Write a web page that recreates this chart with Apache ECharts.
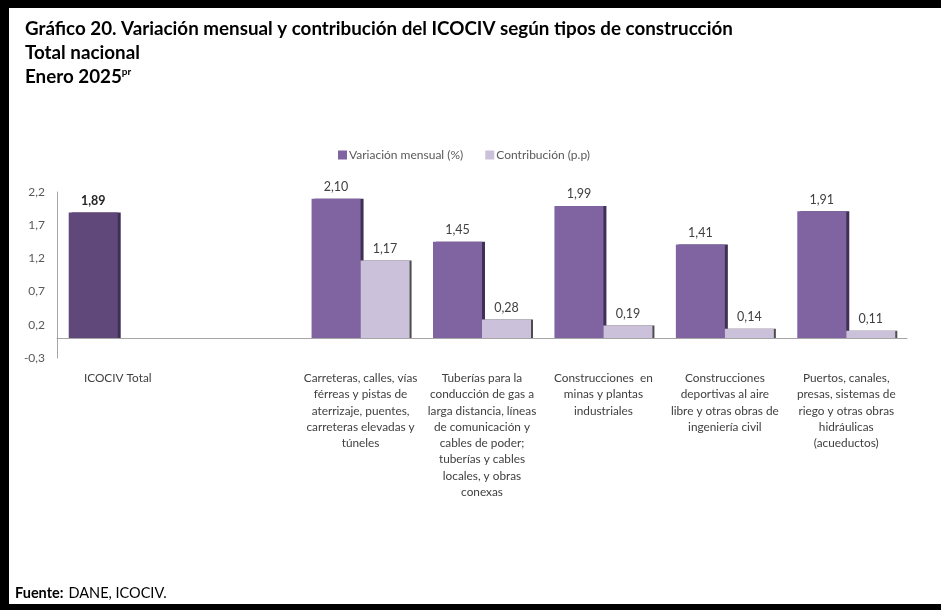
<!DOCTYPE html>
<html><head><meta charset="utf-8">
<script src="https://cdn.jsdelivr.net/npm/echarts@6/dist/echarts.min.js"></script>
<style>
html,body{margin:0;padding:0;background:#000;}
#frame{position:absolute;left:9px;top:8px;width:932px;height:596px;background:#fff;}
#c{position:absolute;left:0;top:0;width:941px;height:610px;}
</style></head>
<body><div id="frame"></div><div id="c"></div>
<script>
const categories = [
  "ICOCIV Total",
  "",
  "Carreteras, calles, vías\nférreas y pistas de\naterrizaje, puentes,\ncarreteras elevadas y\ntúneles",
  "Tuberías para la\nconducción de gas a\nlarga distancia, líneas\nde comunicación y\ncables de poder;\ntuberías y cables\nlocales, y obras\nconexas",
  "Construcciones  en\nminas y plantas\nindustriales",
  "Construcciones\ndeportivas al aire\nlibre y otras obras de\ningeniería civil",
  "Puertos, canales,\npresas, sistemas de\nriego y otras obras\nhidráulicas\n(acueductos)"
];
const variacion = [1.89, null, 2.10, 1.45, 1.99, 1.41, 1.91];
const contribucion = [null, null, 1.17, 0.28, 0.19, 0.14, 0.11];
const yTicks = { min: -0.3, max: 2.2, interval: 0.5 };

const FONT = '"Lato",sans-serif';
const TFONT = '"Lato",sans-serif';
const fmt = v => v.toFixed(2).replace('.', ',');

const chart = echarts.init(document.getElementById('c'), null, {renderer:'canvas'});
chart.setOption({
  backgroundColor: 'transparent',
  animation: false,
  title: [
    { left: 20, top: 14, text: 'Gráfico 20. Variación mensual y contribución del ICOCIV según tipos de construcción',
      textStyle: { fontFamily: TFONT, fontSize: 18.8, fontWeight: 'bold', color: '#000' } },
    { left: 20, top: 38, text: 'Total nacional',
      textStyle: { fontFamily: TFONT, fontSize: 18.8, fontWeight: 'bold', color: '#000' } },
    { left: 20, top: 62, text: '{a|Enero 2025}{s|pr}',
      textStyle: { rich: {
        a: { fontFamily: TFONT, fontSize: 18.8, fontWeight: 'bold', color: '#000' },
        s: { fontFamily: TFONT, fontSize: 10, fontWeight: 'bold', color: '#000', verticalAlign: 'top', padding: [0,0,8,0] } } } },
    { left: 10, top: 579, text: '{b|Fuente:} {n|DANE, ICOCIV.}',
      textStyle: { rich: {
        b: { fontFamily: TFONT, fontSize: 14.5, fontWeight: 'bold', color: '#000' },
        n: { fontFamily: TFONT, fontSize: 14.5, fontWeight: 'normal', color: '#000' } } } }
  ],
  legend: {
    top: 144, left: 333, itemWidth: 9, itemHeight: 9, itemGap: 22,
    icon: 'rect',
    textStyle: { fontFamily: FONT, fontSize: 12, color: '#595959', padding: [0,0,0,-3] },
    data: ['Variación mensual (%)', 'Contribución (p.p)']
  },
  grid: { left: 57, right: 34, top: 192, bottom: 252 },
  xAxis: {
    type: 'category', data: categories,
    axisLine: { onZero: true, lineStyle: { color: '#a6a6a6', width: 1 } },
    axisTick: { show: false },
    axisLabel: { interval: 0, margin: 12, lineHeight: 16.3, fontFamily: FONT, fontSize: 11.8, color: '#404040', align: 'center' }
  },
  yAxis: {
    type: 'value', min: yTicks.min, max: yTicks.max, interval: yTicks.interval,
    splitLine: { show: false },
    axisLine: { show: true, lineStyle: { color: '#a6a6a6' } },
    axisTick: { show: false },
    axisLabel: { margin: 12, fontFamily: FONT, fontSize: 12, color: '#595959',
      formatter: v => v.toFixed(1).replace('.', ',') }
  },
  series: [
    { name: 'Variación mensual (%)', type: 'bar', barWidth: 49, barGap: '0%',
      itemStyle: { color: '#8064a2', shadowColor: '#3f3056', shadowOffsetX: 3, shadowBlur: 0 },
      label: { show: true, position: 'top', distance: 5, fontFamily: FONT, fontSize: 12.5, color: '#404040',
        formatter: p => fmt(p.value) },
      data: variacion.map((v, i) => i === 0
        ? { value: v, itemStyle: { color: '#60497a' }, label: { fontWeight: 'bold', color: '#262626' } }
        : v)
    },
    { name: 'Contribución (p.p)', type: 'bar', barWidth: 49,
      itemStyle: { color: '#ccc1da', shadowColor: '#4d4d4d', shadowOffsetX: 2, shadowBlur: 0 },
      label: { show: true, position: 'top', distance: 5, fontFamily: FONT, fontSize: 12.5, color: '#404040',
        formatter: p => fmt(p.value) },
      data: contribucion
    }
  ]
});
</script></body></html>
